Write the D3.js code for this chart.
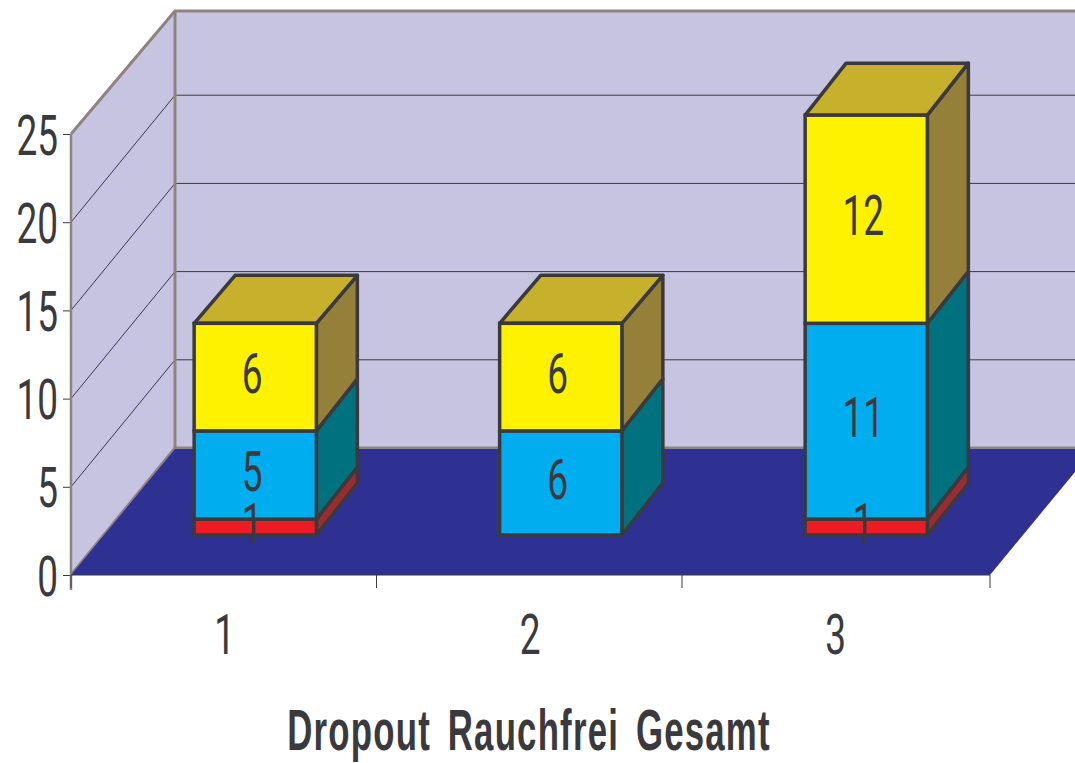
<!DOCTYPE html>
<html>
<head>
<meta charset="utf-8">
<script src="https://cdn.jsdelivr.net/npm/d3@7"></script>
<style>
  html, body { margin: 0; padding: 0; background: #fff; overflow: hidden; }
  svg { display: block; }
  text { font-family: Roboto, "Liberation Sans", sans-serif; fill: #3a3a3e; }
  text.title { font-family: "Liberation Sans", Arial, sans-serif; }
</style>
</head>
<body>
<script>
// data, heights, labels as printed on the bars
var categories = ['1', '2', '3'];
var redValues = [0.9, 0, 0.9];
var blueValues = [5, 5.9, 11.1];
var yellowValues = [6.1, 6.1, 11.8];
var redLabels = ['1', '', '1'];
var blueLabels = ['5', '6', '11'];
var yellowLabels = ['6', '6', '12'];
var yTicks = [0, 5, 10, 15, 20, 25];
var gridTicks = [5, 10, 15, 20];
var xTitle = 'Dropout Rauchfrei Gesamt';

var width = 1075, height = 763;
var plot = {left: 71, right: 990, bottom: 575, top: 134};
var depth = {x: 104, y: 127, topY: 123};
var bar = {frontX: 31.5, frontY: 40, backX: 41, backY: 52};
var squeeze = 0.66;
var barStroke = 3.5;

var colors = {
  wall: '#c7c4e2', wallLine: '#8f8380', floor: '#2e3192', ink: '#3a3a3e',
  red: ['#ed1c24', '#9a2c30'],
  blue: ['#00aeef', '#00727f'],
  yellow: ['#fff200', '#948039'],
  cap: '#c6b02c'
};

var rows = categories.map((c, i) => ({
  cat: c, red: redValues[i], blue: blueValues[i], yellow: yellowValues[i],
  labels: {red: redLabels[i], blue: blueLabels[i], yellow: yellowLabels[i]}
}));
var keys = ['red', 'blue', 'yellow'];
var stacked = d3.stack().keys(keys)(rows);

var x = d3.scaleBand().domain(categories).range([plot.left, plot.right - 2.5])
          .paddingInner(0.6).paddingOuter(0.3);
var y = d3.scaleLinear().domain([0, 25]).range([plot.bottom, plot.top]);

var svg = d3.select('body').append('svg').attr('width', width).attr('height', height);
var pts = a => a.map(p => p.join(',')).join(' ');

// walls
var backTop = plot.top - depth.topY;
var backBottom = plot.bottom - depth.y;
var backLeft = plot.left + depth.x;
svg.append('polygon')
   .attr('points', pts([[plot.left, plot.top], [backLeft, backTop], [width + 5, backTop], [width + 5, backBottom], [backLeft, backBottom], [plot.left, plot.bottom]]))
   .attr('fill', colors.wall);

// gridlines run along the side wall and then across the back wall
svg.append('g').selectAll('polyline').data(gridTicks).enter().append('polyline')
   .attr('points', d => pts([[plot.left, y(d)], [backLeft, y(d) - depth.y], [width + 5, y(d) - depth.y]]))
   .attr('fill', 'none').attr('stroke', colors.ink).attr('stroke-width', 1);

// wall outline
svg.append('polyline')
   .attr('points', pts([[plot.left, plot.top], [backLeft, backTop], [width + 5, backTop]]))
   .attr('fill', 'none').attr('stroke', colors.wallLine).attr('stroke-width', 3);
svg.append('line')
   .attr('x1', backLeft).attr('x2', backLeft).attr('y1', backTop).attr('y2', backBottom)
   .attr('stroke', colors.wallLine).attr('stroke-width', 3);
svg.append('polyline')
   .attr('points', pts([[plot.left, plot.bottom], [backLeft, backBottom], [width + 5, backBottom]]))
   .attr('fill', 'none').attr('stroke', colors.wallLine).attr('stroke-width', 3);

// floor
svg.append('polygon')
   .attr('points', pts([[plot.left, plot.bottom], [plot.right, plot.bottom], [plot.right + depth.x, backBottom + 1], [backLeft, backBottom + 1]]))
   .attr('fill', colors.floor);

// axes
var yAxis = d3.axisLeft(y).tickValues(yTicks).tickSize(8).tickPadding(7);
var gy = svg.append('g').attr('transform', 'translate(' + plot.left + ',0)').call(yAxis);
gy.select('.domain').remove();
gy.selectAll('line').attr('stroke', colors.ink).attr('stroke-width', 1);
gy.selectAll('text').remove();
gy.selectAll('.tick').append('text')
  .attr('transform', 'translate(-13,0) scale(' + squeeze + ',1)')
  .attr('text-anchor', 'end').attr('dy', '0.36em')
  .style('font-size', '56px')
  .text(d => d);

svg.append('line')
   .attr('x1', plot.left).attr('x2', plot.left).attr('y1', plot.top).attr('y2', plot.bottom + 15)
   .attr('stroke', colors.wallLine).attr('stroke-width', 2.5);
svg.append('line')
   .attr('x1', plot.left).attr('x2', plot.right).attr('y1', plot.bottom).attr('y2', plot.bottom)
   .attr('stroke', colors.ink).attr('stroke-width', 1);

var xTickPos = [plot.left].concat(categories.map(c => x(c) + x.bandwidth() + x.step() * x.paddingInner() / 2));
xTickPos[xTickPos.length - 1] = plot.right;
svg.append('g').selectAll('line').data(xTickPos).enter().append('line')
   .attr('x1', d => d).attr('x2', d => d)
   .attr('y1', plot.bottom).attr('y2', plot.bottom + 13)
   .attr('stroke', colors.ink).attr('stroke-width', 1);

svg.append('g').selectAll('text').data(categories).enter().append('text')
   .attr('transform', d => 'translate(' + (x(d) + x.bandwidth() / 2 + 1) + ',634) scale(' + squeeze + ',1)')
   .attr('text-anchor', 'middle').attr('dy', '0.36em')
   .style('font-size', '56px')
   .text(d => d);

// bars
var barLayer = svg.append('g');
stacked.forEach(layer => {
  var key = layer.key;
  var isTop = key === 'yellow';
  var g = barLayer.append('g');
  var segs = layer.map(d => ({cat: d.data.cat, y0: d[0], y1: d[1], label: d.data.labels[key]}))
                  .filter(d => d.y1 > d.y0);

  var left = d => x(d.cat) + bar.frontX;
  var right = d => left(d) + x.bandwidth();
  var low = d => y(d.y0) - bar.frontY;
  var high = d => y(d.y1) - bar.frontY;
  // the two shorter bars have a slightly flatter top in the original
  var rise = d => isTop && d.y1 < 20 ? bar.backY - 4 : bar.backY;

  g.selectAll('polygon.side').data(segs).enter().append('polygon').attr('class', 'side')
   .attr('points', d => pts([[right(d), high(d)], [right(d) + bar.backX, high(d) - rise(d)], [right(d) + bar.backX, low(d) - bar.backY], [right(d), low(d)]]))
   .attr('fill', colors[key][1]).attr('stroke', colors.ink).attr('stroke-width', barStroke).attr('stroke-linejoin', 'round');

  if (isTop) {
    g.selectAll('polygon.cap').data(segs).enter().append('polygon').attr('class', 'cap')
     .attr('points', d => pts([[left(d), high(d)], [right(d), high(d)], [right(d) + bar.backX, high(d) - rise(d)], [left(d) + bar.backX, high(d) - rise(d)]]))
     .attr('fill', colors.cap).attr('stroke', colors.ink).attr('stroke-width', barStroke).attr('stroke-linejoin', 'round');
  }

  g.selectAll('rect').data(segs).enter().append('rect')
   .attr('x', left).attr('y', high)
   .attr('width', x.bandwidth()).attr('height', d => low(d) - high(d))
   .attr('fill', colors[key][0]).attr('stroke', colors.ink).attr('stroke-width', barStroke);
});

// value labels go over every bar
stacked.forEach(layer => {
  var key = layer.key;
  var segs = layer.map(d => ({cat: d.data.cat, y0: d[0], y1: d[1], label: d.data.labels[key]}))
                  .filter(d => d.label !== '');
  svg.append('g').selectAll('text').data(segs).enter().append('text')
     .attr('transform', d => 'translate(' + (x(d.cat) + bar.frontX + x.bandwidth() / 2 - 3) + ',' + ((y(d.y0) + y(d.y1)) / 2 - bar.frontY - 4) + ') scale(' + squeeze + ',1)')
     .attr('text-anchor', 'middle').attr('dy', '0.36em')
     .style('font-size', '56px')
     .text(d => d.label);
});

// axis title
svg.append('text').attr('class', 'title')
   .attr('transform', 'translate(529,750) scale(0.6,1)')
   .attr('text-anchor', 'middle')
   .style('font-size', '58px').style('font-weight', 'bold')
   .style('letter-spacing', '2px').style('word-spacing', '10px')
   .text(xTitle);
</script>
</body>
</html>
